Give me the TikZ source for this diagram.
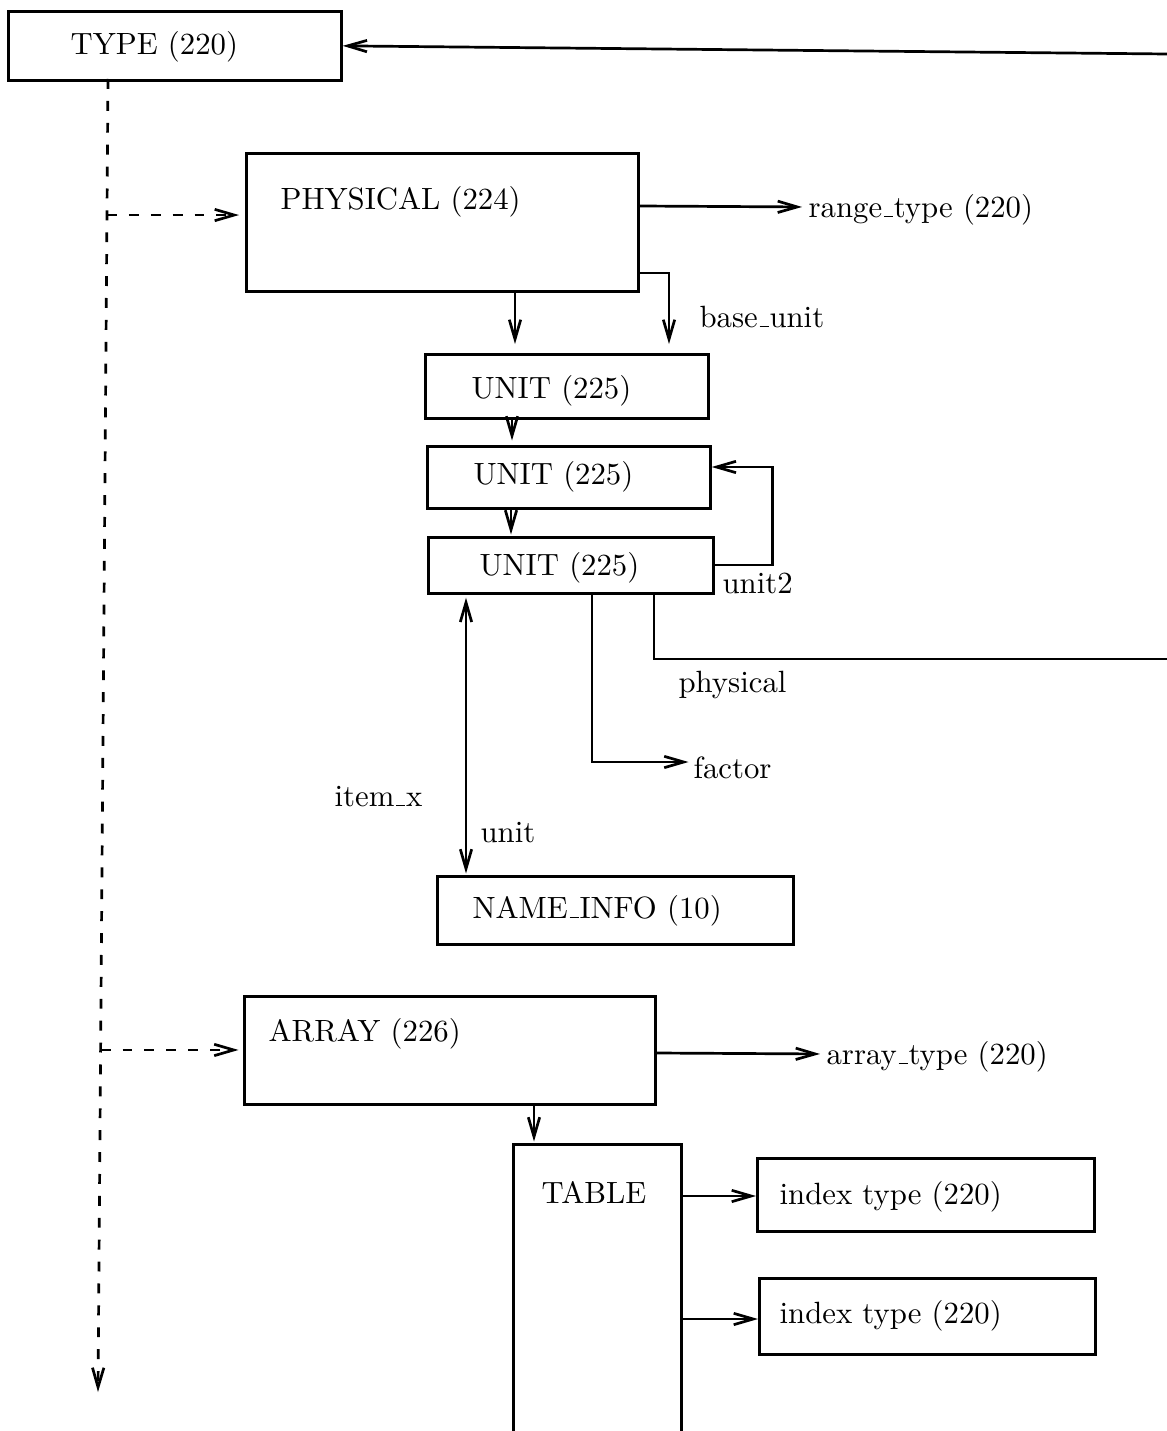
\documentclass[tikz,border=0pt]{standalone}
\usetikzlibrary{arrows.meta,calc}
% short low rule used for underscores in field names
\newcommand\uscore{\leavevmode\kern.06em\vbox{\hrule width.3em height.4pt}\kern.02em}
\begin{document}
\begin{tikzpicture}[x=0.33333pt, y=-0.33333pt,
  box/.style={draw, line width=0.9pt, rectangle, inner sep=0pt, anchor=north west},
  txt/.style={anchor=base west, inner sep=0pt, font=\fontsize{10.25}{12}\selectfont},
  conn/.style={line width=0.9pt, -{Straight Barb[length=6.5pt,width=3.8pt]}},
  dashconn/.style={conn, dash pattern=on 3.3pt off 4pt}]
\useasboundingbox (0,0) rectangle (1167,1431);
\clip (0,0) rectangle (1167,1431);

% boxes
\node[box, minimum width=111pt,    minimum height=23pt]    (type)  at (7,10) {};
\node[box, minimum width=130.67pt, minimum height=46pt]    (phys)  at (245,152) {};
\node[box, minimum width=94.33pt,  minimum height=21.33pt] (unitA) at (424,353) {};
\node[box, minimum width=94.33pt,  minimum height=20.67pt] (unitB) at (426,445) {};
\node[box, minimum width=95pt,     minimum height=18.67pt] (unitC) at (427,536) {};
\node[box, minimum width=118.67pt, minimum height=22.67pt] (name)  at (436,875) {};
\node[box, minimum width=137pt,    minimum height=36pt]    (array) at (243,995) {};
\node[box, minimum width=56pt,     minimum height=105.67pt] (table) at (512,1143) {};
\node[box, minimum width=112.33pt, minimum height=24.33pt] (idxA)  at (756,1157) {};
\node[box, minimum width=112pt,    minimum height=25.33pt] (idxB)  at (758,1277) {};

% box titles
\node[txt] (tType)  at (70,55)    {TYPE (220)};
\node[txt] (tPhys)  at (280,210)  {PHYSICAL (224)};
\node[txt] (tUnitA) at (471,398)  {UNIT (225)};
\node[txt] (tUnitB) at (473,484)  {UNIT (225)};
\node[txt] (tUnitC) at (479,575)  {UNIT (225)};
\node[txt] (tName)  at (472,918)  {NAME\uscore INFO (10)};
\node[txt] (tArray) at (268,1041) {ARRAY (226)};
\node[txt] (tTable) at (541,1203) {TABLE};
\node[txt] (tIdxA)  at (779,1204) {index type (220)};
\node[txt] (tIdxB)  at (779,1323) {index type (220)};

% field labels
\node[txt] (tRange)  at (808,217)  {range\uscore type (220)};
\node[txt] (tBase)   at (699,327)  {base\uscore unit};
\node[txt] (tUnit2)  at (722,593)  {unit2};
\node[txt] (tPhysF)  at (678,692)  {physical};
\node[txt] (tFactor) at (693,778)  {factor};
\node[txt] (tItem)   at (334,806)  {item\uscore x};
\node[txt] (tUnitF)  at (480,842)  {unit};
\node[txt] (tArrT)   at (826,1064) {array\uscore type (220)};

% line leaving to the right and coming back into TYPE
\coordinate (edgeTop) at (1167,54);
\coordinate (edgeMid) at (1167,659);
\draw[conn] (edgeTop) -- (type.east);

% dashed subtype line
\coordinate (dtop) at (108,79);
\coordinate (dbot) at (98,1392);
\draw[dashconn] (dtop) -- (dbot);
\coordinate (dA) at ($(dtop)!0.1036!(dbot)$);
\coordinate (dB) at ($(dtop)!0.7395!(dbot)$);
\draw[dashconn, shorten >=2pt] (dA) -- (phys.west |- dA);
\draw[dashconn, shorten >=1.5pt] (dB) -- (array.west |- dB);

% PHYSICAL
\draw[conn, shorten >=2pt] (phys.east |- 0,206) -- (tRange.west |- 0,207);
\draw[conn, shorten >=3pt] (phys.south -| 515,0) -- (unitA.north -| 515,0);
\draw[conn, shorten >=3pt] (phys.east |- 0,273) -| (unitA.north -| 669,0);

% UNIT chain
\draw[conn, shorten >=1.5pt] (unitA.south -| 512,0) -- (unitB.north -| 512,0);
\draw[conn, shorten >=0.5pt] (unitB.south -| 511,0) -- (unitC.north -| 511,0);
\draw[conn] (unitC.east |- 0,565) -- ++(58,0) |- (unitB.east |- 0,467);
\draw[line width=0.9pt] (unitC.south -| 654,0) |- (edgeMid);
\draw[conn, shorten >=1.5pt] (unitC.south -| 592,0) |- (tFactor.west |- 0,762);
\draw[line width=0.9pt, {Straight Barb[length=6.5pt,width=3.8pt]}-{Straight Barb[length=6.5pt,width=3.8pt]}, shorten <=1pt, shorten >=0.5pt]
  (unitC.south -| 466,0) -- (name.north -| 466,0);

% ARRAY
\draw[conn, shorten >=2pt] (array.east |- 0,1053) -- (tArrT.west |- 0,1054);
\draw[conn, shorten >=0.5pt] (array.south -| 534,0) -- (table.north -| 534,0);
\draw[conn] (table.east |- 0,1196) -- (idxA.west |- 0,1196);
\draw[conn] (table.east |- 0,1319) -- (idxB.west |- 0,1319);
\end{tikzpicture}
\end{document}
